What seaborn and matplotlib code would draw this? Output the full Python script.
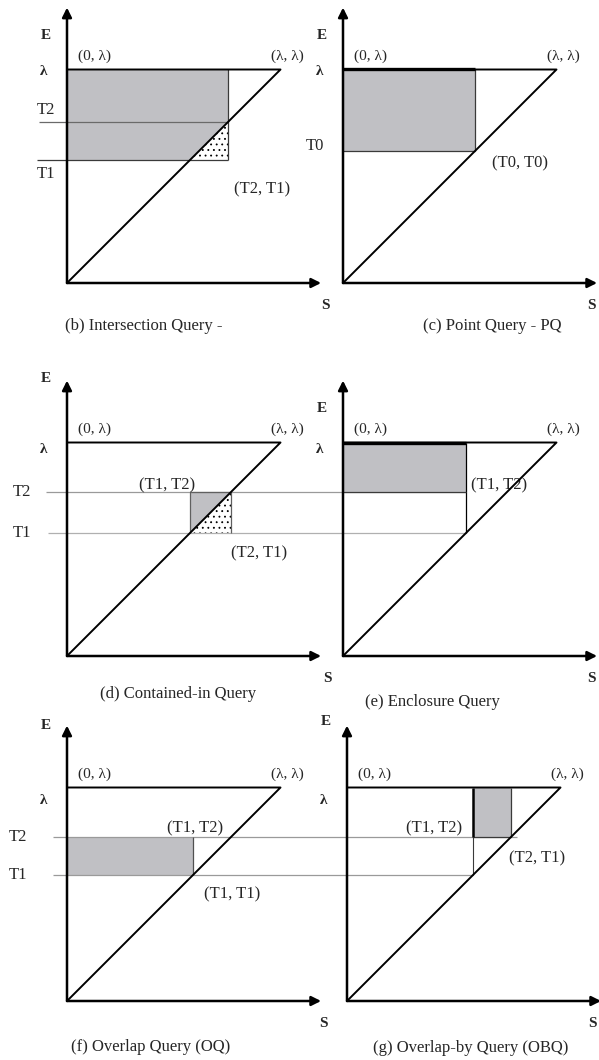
import matplotlib
matplotlib.use("Agg")
import matplotlib.pyplot as plt
import seaborn as sns

# --- diagram values (lambda = 1) ---
LAM = 1.0
T1_B, T2_B = 0.575, 0.755          # (b) intersection
T0_C = 0.62                        # (c) point query
T1_DE, T2_DE = 0.577, 0.77         # (d) / (e)
T1_FG, T2_FG = 0.592, 0.768        # (f) / (g)

panels = ["b", "c", "d", "e", "f", "g"]
captions = ["(b) Intersection Query -", "(c) Point Query - PQ",
            "(d) Contained-in Query", "(e) Enclosure Query",
            "(f) Overlap Query (OQ)", "(g) Overlap-by Query (OBQ)"]
corner_labels = ["(0, λ)", "(λ, λ)"]

# --- layout (pixels) ---
FIG_W, FIG_H = 599, 1060
SCALE = 213.5
XMIN, XMAX, YMIN, YMAX = -0.3, 1.25, -0.25, 1.35
origins = {"b": (67, 283), "c": (343, 283), "d": (67, 656),
           "e": (343, 656), "f": (67, 1001), "g": (347, 1001)}
caption_x = [0.36, 0.70, 0.52, 0.42, 0.39, 0.58]
caption_y = [-0.20, -0.20, -0.18, -0.215, -0.215, -0.22]
e_label_y = [1.16, 1.16, 1.30, 1.16, 1.29, 1.31]
lam_label_y = [0.99, 0.99, 0.965, 0.965, 0.94, 0.94]
s_label_x = [1.21, 1.165, 1.22, 1.165, 1.20, 1.15]

GRAY_FILL = "#c0c0c4"
THIN = "#9a9a9a"
DARK = "#3a3a3a"
FS = 12

sns.set_theme(style="white")
plt.rcParams["font.family"] = ["Liberation Serif", "DejaVu Serif"]
plt.rcParams["hatch.linewidth"] = 0.6

fig = plt.figure(figsize=(FIG_W / 100, FIG_H / 100), dpi=100)


def make_axes(key):
    ox, oy = origins[key]
    left = ox + XMIN * SCALE
    bottom = oy - YMIN * SCALE
    ax = fig.add_axes([left / FIG_W, (FIG_H - bottom) / FIG_H,
                       (XMAX - XMIN) * SCALE / FIG_W, (YMAX - YMIN) * SCALE / FIG_H])
    ax.set_xlim(XMIN, XMAX)
    ax.set_ylim(YMIN, YMAX)
    ax.axis("off")
    return ax


def hline(ax, y, x0, x1, color=THIN, lw=0.9, z=2):
    ax.plot([x0, x1], [y, y], color=color, lw=lw, zorder=z, clip_on=False,
            solid_capstyle="butt")


def vline(ax, x, y0, y1, color=DARK, lw=0.9, z=2):
    ax.plot([x, x], [y0, y1], color=color, lw=lw, zorder=z, clip_on=False,
            solid_capstyle="butt")


def base(ax, i):
    arrow = dict(arrowstyle="-|>", lw=1.8, color="black", mutation_scale=14,
                 shrinkA=0, shrinkB=0)
    ax.annotate("", xy=(1.19, 0), xytext=(0, 0), arrowprops=arrow, zorder=5)
    ax.annotate("", xy=(0, 1.29), xytext=(0, 0), arrowprops=arrow, zorder=5)
    sns.lineplot(x=[0, LAM, 0], y=[0, LAM, LAM], sort=False, estimator=None,
                 color="black", lw=1.4, ax=ax, zorder=4)
    ax.text(-0.10, e_label_y[i], "E", fontsize=FS - 1, fontweight="bold",
            ha="center", va="center")
    ax.text(-0.11, lam_label_y[i], "λ", fontsize=FS - 1, fontweight="bold",
            ha="center", va="center")
    ax.text(s_label_x[i], -0.105, "S", fontsize=FS - 1, fontweight="bold",
            ha="center", va="center")
    ax.text(0.05, 1.06, corner_labels[0], fontsize=FS - 1, ha="left", va="center")
    ax.text(1.03, 1.06, corner_labels[1], fontsize=FS - 1, ha="center", va="center")
    ax.text(caption_x[i], caption_y[i], captions[i], fontsize=FS,
            ha="center", va="center")


def label(ax, x, y, s, ha="left"):
    ax.text(x, y, s, fontsize=FS, ha=ha, va="center")


axes = {k: make_axes(k) for k in panels}
for i, k in enumerate(panels):
    base(axes[k], i)

# (b) Intersection Query
ax = axes["b"]
ax.fill([0, T1_B, T2_B, T2_B, 0], [T1_B, T1_B, T2_B, LAM, LAM],
        color=GRAY_FILL, lw=0, zorder=1)
ax.fill([T1_B, T2_B, T2_B], [T1_B, T1_B, T2_B], facecolor="white",
        edgecolor="black", hatch="...", lw=0, zorder=1)
hline(ax, T2_B, -0.13, T2_B, color="#6a6a6a")
hline(ax, T1_B, -0.14, T2_B, color=DARK)
vline(ax, T2_B, T1_B, LAM)
label(ax, -0.10, 0.81, "T2", ha="center")
label(ax, -0.10, 0.51, "T1", ha="center")
label(ax, 0.78, 0.44, "(T2, T1)")

# (c) Point Query
ax = axes["c"]
ax.fill([0, T0_C, T0_C, 0], [T0_C, T0_C, LAM, LAM], color=GRAY_FILL, lw=0, zorder=1)
hline(ax, T0_C, 0, T0_C, color=DARK)
vline(ax, T0_C, T0_C, LAM)
hline(ax, LAM, 0, T0_C, color="black", lw=2.4, z=5)
label(ax, -0.13, 0.64, "T0", ha="center")
label(ax, 0.70, 0.56, "(T0, T0)")

# (d) Contained-in Query, its T lines run on into (e)
ax = axes["d"]
de_shift = (origins["e"][0] - origins["d"][0]) / SCALE
ax.fill([T1_DE, T1_DE, T2_DE], [T1_DE, T2_DE, T2_DE], color=GRAY_FILL, lw=0, zorder=1)
ax.fill([T1_DE, T2_DE, T2_DE], [T1_DE, T1_DE, T2_DE], facecolor="white",
        edgecolor="black", hatch="...", lw=0, zorder=1)
hline(ax, T2_DE, -0.10, de_shift + T1_DE)
hline(ax, T1_DE, -0.09, de_shift + T1_DE, color="#b0b0b0")
vline(ax, T1_DE, T1_DE, T2_DE, color="#606060")
vline(ax, T2_DE, T1_DE, T2_DE, color="#606060")
hline(ax, T2_DE, T1_DE, T2_DE, color="#606060", z=3)
label(ax, -0.21, T2_DE, "T2", ha="center")
label(ax, -0.21, T1_DE, "T1", ha="center")
label(ax, 0.47, 0.80, "(T1, T2)", ha="center")
label(ax, 0.77, 0.48, "(T2, T1)")

# (e) Enclosure Query
ax = axes["e"]
ax.fill([0, T1_DE, T1_DE, 0], [T2_DE, T2_DE, LAM, LAM], color=GRAY_FILL, lw=0, zorder=1)
hline(ax, T2_DE, 0, T1_DE, color=DARK, z=3)
vline(ax, T1_DE, T1_DE, LAM, color="black")
hline(ax, LAM, 0, T1_DE, color="black", lw=2.4, z=5)
label(ax, 0.60, 0.80, "(T1, T2)")

# (f) Overlap Query, its T lines run on into (g)
ax = axes["f"]
fg_shift = (origins["g"][0] - origins["f"][0]) / SCALE
ax.fill([0, T1_FG, T1_FG, 0], [T1_FG, T1_FG, T2_FG, T2_FG], color=GRAY_FILL, lw=0, zorder=1)
hline(ax, T2_FG, -0.065, fg_shift + T2_FG + 0.03)
hline(ax, T1_FG, -0.065, fg_shift + T1_FG)
vline(ax, T1_FG, T1_FG, T2_FG, color="#505050")
label(ax, -0.23, T2_FG, "T2", ha="center")
label(ax, -0.23, T1_FG, "T1", ha="center")
label(ax, 0.47, 0.81, "(T1, T2)")
label(ax, 0.64, 0.50, "(T1, T1)")

# (g) Overlap-by Query
ax = axes["g"]
ax.fill([T1_FG, T2_FG, T2_FG, T1_FG], [T2_FG, T2_FG, LAM, LAM], color=GRAY_FILL, lw=0, zorder=1)
hline(ax, T2_FG, T1_FG, T2_FG, color=DARK, z=3)
vline(ax, T2_FG, T2_FG, LAM, color=DARK)
vline(ax, T1_FG, T2_FG, LAM, color="black", lw=1.8, z=5)
vline(ax, T1_FG, T1_FG, T2_FG, color=DARK, lw=0.8)
label(ax, 0.54, 0.81, "(T1, T2)", ha="right")
label(ax, 0.76, 0.67, "(T2, T1)")

fig.savefig("out.png", dpi=100)
